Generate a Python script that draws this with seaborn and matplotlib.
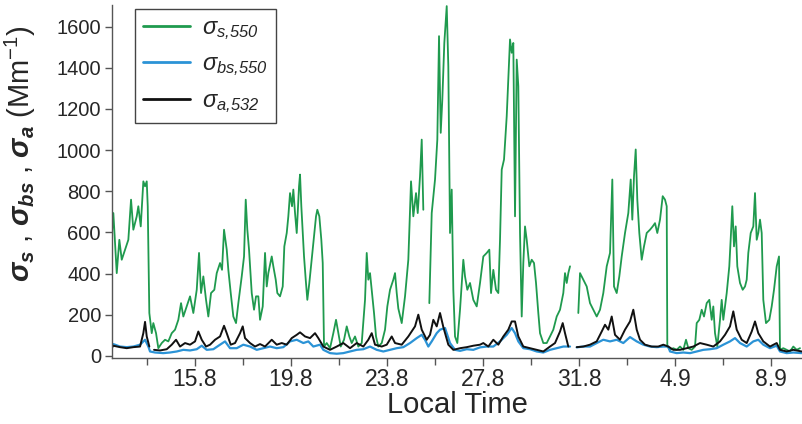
import numpy as np
import pandas as pd
import matplotlib
matplotlib.use("Agg")
import matplotlib.pyplot as plt
from matplotlib.lines import Line2D
import seaborn as sns


# =========================
# Data (time = hours since 11 Aug 00:00 local time, values in Mm-1)
# =========================

GREEN_HOURS = [
    13, 14.3, 17.7, 20.3, 22.7, 26, 29.3, 32, 34.3, 37.7,
    39.3, 41.7, 44.3, 46, 47.7, 48.7, 50.3, 52.7, 54.3, 57,
    59.3, 62.7, 66, 69.3, 72.7, 76, 79.3, 82, 84.3, 87.7,
    91, 94.3, 97.7, 100, 102, 104.3, 107, 109.3, 112, 115.3,
    117.7, 121, 123, 125, 127.7, 129.3, 131.7, 134.3, 137, 139.3,
    142.7, 145, 146.7, 148.3, 150, 152.7, 155, 157, 159.3, 161,
    163.7, 166, 167.7, 169.3, 172.7, 174.3, 176.7, 178.3, 181, 183.7,
    185.3, 187.7, 189.3, 191, 193, 194.3, 196, 197.7, 200, 201,
    202.3, 203.7, 205, 206.7, 208.3, 210.3, 212, 214.3, 217, 218.3,
    220.3, 222.3, 223.7, 225, 227.7, 231, 234.3, 237, 239.3, 241.7,
    245, 247.7, 250.3, 252.7, 256, 259.3, 262.7, 266, 267.7, 269.3,
    271, 272.7, 275, 277, 279.3, 282.7, 286, 288.3, 291, 294.3,
    296, 297.7, 299.3, 302.7, 306, 309.3, 312, 314.3, 317, 318.7,
    321, 322.7, 324.3, 327, 330.3, 332.7, 336, 338.3, 340, 341.7,
    343.3, 345.3, 347.7, 349.3, 351, 352.7, 354.3, 356, 358.3, 361,
    364.3, 366, 368.3, 371, 374.3, 377.7, 381, 384.3, 387.7, 390.3,
    392, 394.3, 397, 399.3, 401, 402.7, 405, 407.7, 411, 412.7,
    414.3, 416, 417.7, 419.3, 421, 422.7, 424.3, 426, 427.7, 430.3,
    432.7, 435, 437, 439.3, 441, 444.3, 447.7, 451, 454.3, 457.7,
    461, 464.3, 466, 467.7, 469.3, 471, 475, 479.3, 481, 484.3,
    487.7, 491, 494.3, 497.7, 501, 504.3, 507.7, 511, 513.3, 515,
    517.7, 520.3, 522.7, 526, 529.3, 531.7, 533.3, 535, 536.7, 538.3,
    540.3, 542.7, 545, 547.7, 551, 553.7, 556, 558.3, 561, 563.7,
    566, 567.7, 568.3, 571, 574.3, 577.7, 581, 584.3, 587, 589.3,
    592.7, 596, 597.7, 600.3, 602.7, 605, 607.7, 610.3, 612.7, 614.3,
    616, 618.3, 621, 622.7, 624.3, 627.7, 630.3, 632, 633.3, 635,
    636.7, 638.3, 641, 643.7, 646, 647.7, 649.3, 651.7, 654.3, 656,
    657.7, 659.3, 661, 662.7, 664.3, 667, 670.3, 672.7, 675, 677.7,
    680, 681, 684.3, 687.7, 691, 694.3, 697.7, 701,
]
GREEN_VALUES = [
    600, 694, 402, 564, 467, 516, 564, 759, 613, 678,
    727, 629, 848, 824, 848, 727, 208, 110, 159, 110,
    37, 62, 78, 70, 110, 127, 175, 256, 191, 240,
    289, 208, 321, 500, 305, 386, 272, 191, 305, 321,
    402, 451, 418, 613, 516, 418, 305, 191, 159, 256,
    386, 483, 759, 613, 516, 305, 224, 289, 289, 175,
    240, 500, 337, 402, 483, 435, 370, 305, 289, 337,
    532, 597, 678, 791, 727, 808, 694, 597, 824, 881,
    727, 597, 483, 370, 272, 354, 435, 548, 678, 710,
    678, 564, 451, 45, 62, 37, 110, 175, 110, 45,
    78, 143, 94, 62, 94, 45, 62, 272, 500, 370,
    402, 321, 208, 94, 45, 62, 127, 240, 321, 370,
    402, 305, 230, 159, 289, 467, 848, 678, 791, 694,
    873, 1051, 710, np.nan, 256, 694, 857, 1051, 1554, 1084,
    1246, 1521, 1700, 1408, 597, 808, 321, 94, 62, 224,
    467, 386, 321, 354, 272, 240, 354, 483, 500, 516,
    305, 418, 321, 305, 564, 905, 954, 1165, 1538, 1473,
    1521, 678, 1440, 1311, 597, 191, 451, 629, 564, 435,
    467, 451, 354, 208, 110, 62, 62, 94, 127, 191,
    224, 305, 402, 354, 402, 435, np.nan, 208, 402, 370,
    337, 256, 224, 191, 224, 305, 435, 500, 857, 337,
    305, 386, 483, 597, 694, 857, 662, 873, 1003, 759,
    597, 467, 532, 597, 613, 629, 645, 597, 662, 776,
    759, 727, 45, 29, 37, 29, 45, 29, 78, 37,
    29, 45, 159, 175, 224, 191, 256, 272, 175, 240,
    110, 45, 175, 272, 175, 305, 435, 597, 727, 532,
    629, 435, 354, 321, 337, 370, 500, 597, 629, 791,
    564, 597, 662, 597, 272, 159, 175, 240, 321, 435,
    483, 29, 37, 29, 21, 45, 29, 37,
]

BLUE_HOURS = [
    13, 14.3, 21, 27.7, 34.3, 41, 46, 49.3, 51, 56,
    64.3, 71, 77.7, 84.3, 91, 97.7, 102.7, 107.7, 114.3, 121,
    126, 131, 137.7, 144.3, 151, 157.7, 164.3, 171, 177.7, 184.3,
    191, 197.7, 204.3, 209.3, 214.3, 221, 224.3, 231, 237.7, 244.3,
    251, 257.7, 264.3, 271, 277.7, 284.3, 291, 297.7, 304.3, 311,
    317.7, 322.7, 326, 329.3, 332.7, 337.7, 341, 346, 351, 356,
    361, 367.7, 374.3, 381, 387.7, 394.3, 401, 407.7, 412.7, 416,
    419.3, 424.3, 431, 437.7, 444.3, 451, 457.7, 464.3, 471, 474,
    477.7, 484.3, 491, 497.7, 504.3, 511, 517.7, 524.3, 531, 537.7,
    544.3, 551, 557.7, 564.3, 569.3, 571, 577.7, 584.3, 591, 597.7,
    604.3, 611, 617.7, 624.3, 631, 636, 641, 647.7, 654.3, 659.3,
    664.3, 671, 677.7, 681, 687.7, 694.3, 702.7,
]
BLUE_VALUES = [
    50, 57, 45, 42, 45, 54, 78, 45, 21, 16,
    13, 16, 21, 29, 26, 32, 49, 29, 32, 54,
    70, 37, 37, 54, 45, 29, 37, 45, 37, 42,
    70, 78, 62, 70, 45, 54, 29, 13, 10, 13,
    21, 29, 32, 45, 29, 21, 29, 37, 42, 62,
    86, 102, 78, 45, 70, 110, 127, 135, 62, 29,
    24, 32, 29, 41, 45, 45, 70, 102, 135, 110,
    70, 37, 32, 21, 16, 29, 37, 45, 45, np.nan,
    41, 45, 45, 62, 78, 70, 78, 62, 91, 70,
    54, 45, 42, 45, 45, 21, 13, 16, 13, 21,
    29, 32, 37, 54, 70, 86, 62, 45, 70, 78,
    54, 37, 49, 21, 13, 16, 13,
]

BLACK_HOURS = [
    13, 14.3, 21, 27.7, 34.3, 41, 44.3, 46, 47.7, 50.3,
    52.5, 55, 61, 67.7, 72.7, 77, 81, 86, 91, 96,
    99.3, 102.7, 107, 111, 116, 121, 125, 127.7, 131.7, 136,
    141, 143.7, 146, 151, 156, 161, 166, 172.7, 177.7, 182.7,
    187.7, 192.7, 197.7, 201, 206, 211, 216, 219.3, 224.3, 231,
    237.7, 244.3, 251, 257.7, 264.3, 269.3, 272.7, 276, 282.7, 287.7,
    292.7, 296, 302.7, 309.3, 316, 319.3, 322.7, 327.7, 331, 334.3,
    337.7, 341, 344.3, 349.3, 354.3, 361, 367.7, 374.3, 381, 384.3,
    389.3, 394.3, 399.3, 404.3, 409.3, 412.7, 416, 419.3, 424.3, 431,
    437.7, 444.3, 451, 456, 461, 463.7, 466, 469.3, 473.5, 477.7,
    484.3, 491, 497.7, 502.7, 506, 509.3, 512.7, 516, 521, 526,
    531, 534.3, 537.7, 541, 546, 552.7, 559.3, 564.3, 569.3, 574.3,
    581, 587.7, 594.3, 601, 607.7, 614.3, 621, 626, 631, 634.3,
    637.7, 642.7, 647.7, 652.7, 656, 659.3, 664.3, 671, 677.7, 681,
    687.7, 694.3, 702.7,
]
BLACK_VALUES = [
    40, 49, 42, 37, 42, 45, 110, 165, 94, 45,
    np.nan, 29, 26, 32, 54, 78, 45, 62, 54, 70,
    118, 78, 45, 54, 78, 94, 146, 110, 54, 62,
    110, 143, 86, 62, 45, 57, 45, 78, 54, 62,
    54, 86, 102, 114, 94, 86, 110, 86, 45, 29,
    45, 62, 37, 62, 45, 78, 110, 54, 45, 54,
    94, 62, 54, 94, 143, 200, 127, 78, 102, 175,
    143, 208, 140, 54, 29, 37, 42, 49, 54, 62,
    45, 78, 54, 94, 127, 167, 167, 94, 45, 37,
    29, 21, 45, 62, 118, 159, 110, 45, np.nan, 42,
    45, 54, 70, 118, 151, 127, 191, 102, 78, 127,
    167, 224, 127, 78, 54, 45, 45, 54, 45, 29,
    29, 37, 45, 62, 54, 45, 70, 102, 143, 216,
    127, 78, 62, 118, 167, 110, 70, 45, 62, 29,
    21, 29, 21,
]

SERIES_LABELS = [r"$\sigma_{\mathsf{s{,}550}}$", r"$\sigma_{\mathsf{bs{,}550}}$",
                 r"$\sigma_{\mathsf{a{,}532}}$"]

TICK_HOURS = [96, 192, 288, 384, 480, 576, 672]
TICK_LABELS = ["15.8", "19.8", "23.8", "27.8", "31.8", "4.9", "8.9"]
MINOR_HOURS = [48, 144, 240, 336, 432, 528, 624]
Y_TICKS = [0, 200, 400, 600, 800, 1000, 1200, 1400, 1600]

# =========================
# Style
# =========================

GREEN = "#1f9a4e"
BLUE = "#2b93d6"
BLACK = "#111111"

sns.set_theme(style="ticks")
plt.rcParams["font.family"] = ["Liberation Sans", "DejaVu Sans"]
plt.rcParams["mathtext.fontset"] = "custom"
plt.rcParams["mathtext.rm"] = "Liberation Sans"
plt.rcParams["mathtext.it"] = "Liberation Sans:italic"
plt.rcParams["mathtext.sf"] = "Liberation Sans:italic"
plt.rcParams["mathtext.bf"] = "Liberation Sans:italic:bold"


def to_frame(hours, values):
    assert len(hours) == len(values)
    df = pd.DataFrame({"hours": hours, "value": values})
    # NaN rows mark gaps in the record -> split into segments
    df["seg"] = df["value"].isna().cumsum()
    return df.dropna()


fig = plt.figure(figsize=(8.02, 4.24), dpi=100)
ax = fig.add_axes([0.1397, 0.156, 0.8603, 0.832])

series = [
    (to_frame(GREEN_HOURS, GREEN_VALUES), GREEN, 1.3),
    (to_frame(BLUE_HOURS, BLUE_VALUES), BLUE, 1.6),
    (to_frame(BLACK_HOURS, BLACK_VALUES), BLACK, 1.4),
]
for df, color, lw in series:
    sns.lineplot(data=df, x="hours", y="value", units="seg", estimator=None,
                 sort=False, color=color, linewidth=lw, ax=ax, legend=False)

ax.set_xlim(13, 703)
ax.set_ylim(-10, 1705)
ax.set_xticks(TICK_HOURS)
ax.set_xticklabels(TICK_LABELS)
ax.set_xticks(MINOR_HOURS, minor=True)
ax.set_yticks(Y_TICKS)

sns.despine(ax=ax)
for side in ["left", "bottom"]:
    ax.spines[side].set_color("#555555")
    ax.spines[side].set_linewidth(1.0)
ax.tick_params(axis="y", labelsize=14.5, length=5, width=1, color="#555555",
               direction="out", pad=3)
ax.tick_params(axis="x", which="major", labelsize=16.5, length=6, width=1,
               color="#555555", direction="out", pad=1)
ax.tick_params(axis="x", which="minor", length=5, width=1, color="#555555",
               direction="out")

ax.set_xlabel("Local Time", fontsize=21, labelpad=0)
ax.set_ylabel(r"$\mathbf{\sigma_s}$ , $\mathbf{\sigma_{bs}}$ , "
              r"$\mathbf{\sigma_a}$ (Mm$^{-1}$)", fontsize=21)
ax.yaxis.set_label_coords(-0.108, 0.58)

handles = [Line2D([0], [0], color=c, lw=2) for c in (GREEN, BLUE, BLACK)]
leg = ax.legend(handles, SERIES_LABELS, loc="upper left",
                bbox_to_anchor=(0.033, 0.99), borderaxespad=0,
                fontsize=17, handlelength=2.0, labelspacing=0.5,
                handletextpad=0.5, borderpad=0.35,
                frameon=True, fancybox=False, framealpha=1)
leg.get_frame().set_edgecolor("#444444")
leg.get_frame().set_linewidth(1.0)

fig.savefig("out.png", dpi=100)
